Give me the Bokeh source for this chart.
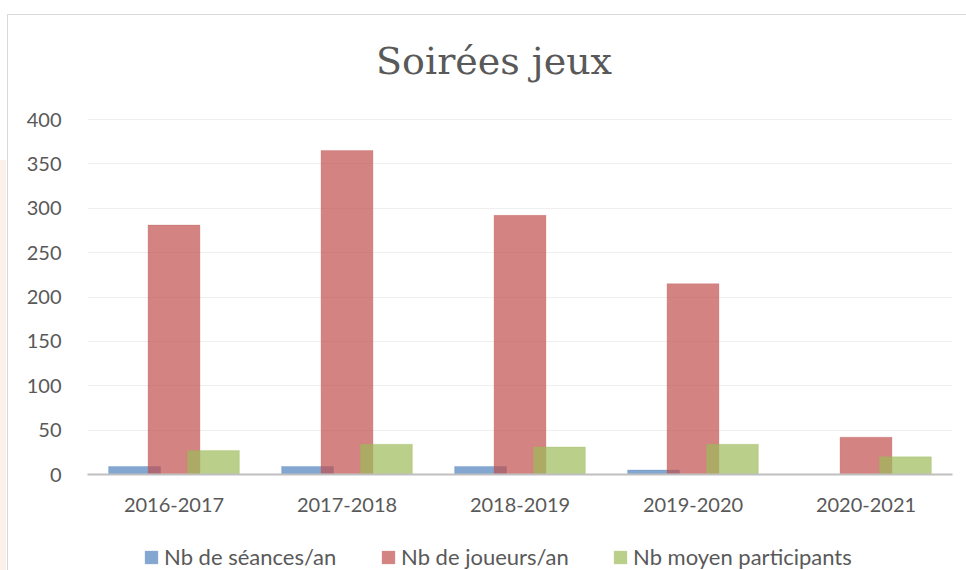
from bokeh.plotting import figure
from bokeh.models import (ColumnDataSource, FactorRange, Range1d, FixedTicker, Legend,
                          LegendItem, Label)
from bokeh.layouts import column
from bokeh.transform import dodge
from bokeh.embed import file_html
from bokeh.resources import INLINE

# ---- data ----
seasons = ["2016-2017", "2017-2018", "2018-2019", "2019-2020", "2020-2021"]
seances = [9, 9, 9, 5, 0]
joueurs = [281, 365, 292, 215, 42]
participants = [27, 34, 31, 34, 20]
series_names = ["Nb de séances/an", "Nb de joueurs/an", "Nb moyen participants"]
y_ticks = [0, 50, 100, 150, 200, 250, 300, 350, 400]
title_text = "Soirées jeux"

colors = ["#4F81BD", "#C0504D", "#9BBB59"]
text_color = "#595959"

src = ColumnDataSource(dict(season=seasons, seances=seances, joueurs=joueurs,
                            participants=participants))

W = 966
H_MAIN = 520
H_LEG = 50
FRAME_LEFT = 87
# frame: from canvas top to the x axis (474px); 400 sits at y=119
y_top = 474 / 0.8875

p = figure(width=W, height=H_MAIN, x_range=FactorRange(*seasons, range_padding=0),
           y_range=Range1d(0, y_top), output_backend="svg", toolbar_location=None,
           min_border_left=FRAME_LEFT, min_border_right=14, min_border_top=0,
           min_border_bottom=H_MAIN - 474)
p.outline_line_color = None
p.background_fill_alpha = 0
p.border_fill_alpha = 0

bw = 0.30
off = 0.228
fields = ["seances", "joueurs", "participants"]
offsets = [-off, 0.0, off]
for f, o, c in zip(fields, offsets, colors):
    p.vbar(x=dodge("season", o, range=p.x_range), top=f, width=bw, source=src,
           fill_color=c, fill_alpha=0.7, line_color=c, line_alpha=0.25, line_width=1)

p.yaxis.ticker = FixedTicker(ticks=y_ticks)
p.yaxis.axis_line_color = None
p.yaxis.major_tick_line_color = None
p.yaxis.minor_tick_line_color = None
p.yaxis.major_label_standoff = 20
p.yaxis.major_label_text_font = "Lato"
p.yaxis.major_label_text_font_size = "20px"
p.yaxis.major_label_text_color = text_color

p.xaxis.axis_line_color = "#BFBFBF"
p.xaxis.axis_line_width = 2
p.xaxis.major_tick_line_color = None
p.xaxis.minor_tick_line_color = None
p.xaxis.major_label_standoff = 17
p.xaxis.major_label_text_font = "Lato"
p.xaxis.major_label_text_font_size = "20px"
p.xaxis.major_label_text_color = text_color

p.xgrid.grid_line_color = None
p.ygrid.grid_line_color = "#EFEFEF"

p.add_layout(Label(x=2.35, y=466, text=title_text, text_align="center",
                   text_baseline="alphabetic", text_font="DejaVu Serif",
                   text_font_size="38px", text_color=text_color))

# ---- legend strip (its frame is aligned with the main plot's frame) ----
pl = figure(width=W, height=H_LEG, x_range=Range1d(0, 1), y_range=Range1d(0, 1),
            output_backend="svg", toolbar_location=None, x_axis_location=None,
            y_axis_location=None, min_border=0)
pl.outline_line_color = None
pl.grid.visible = False
pl.background_fill_alpha = 0
pl.border_fill_alpha = 0

legend_x = [143, 380, 612]
for name, c, lx in zip(series_names, colors, legend_x):
    r = pl.vbar(x=[-10], top=[-10], bottom=[-11], width=0.1, fill_color=c, fill_alpha=0.7,
                line_color=c, line_alpha=0.25)
    lg = Legend(items=[LegendItem(label=name, renderers=[r])],
                location=(lx - FRAME_LEFT, 0),
                orientation="horizontal", label_text_font="Lato",
                label_text_font_size="22px", label_text_color=text_color,
                glyph_width=16, glyph_height=16, label_standoff=5, padding=0,
                margin=0, border_line_color=None, background_fill_alpha=0)
    pl.add_layout(lg, "center")

layout = column(p, pl, spacing=0, styles={
    "background": ("linear-gradient(#D9D9D9,#D9D9D9) 7px 14px / 1px 100% no-repeat, "
                   "linear-gradient(#D9D9D9,#D9D9D9) 7px 14px / 100% 1px no-repeat, "
                   "linear-gradient(#FCF1E9,#FCF1E9) 0px 160px / 6px 100% no-repeat, white")})

open("out.html", "w").write(file_html(layout, INLINE))
